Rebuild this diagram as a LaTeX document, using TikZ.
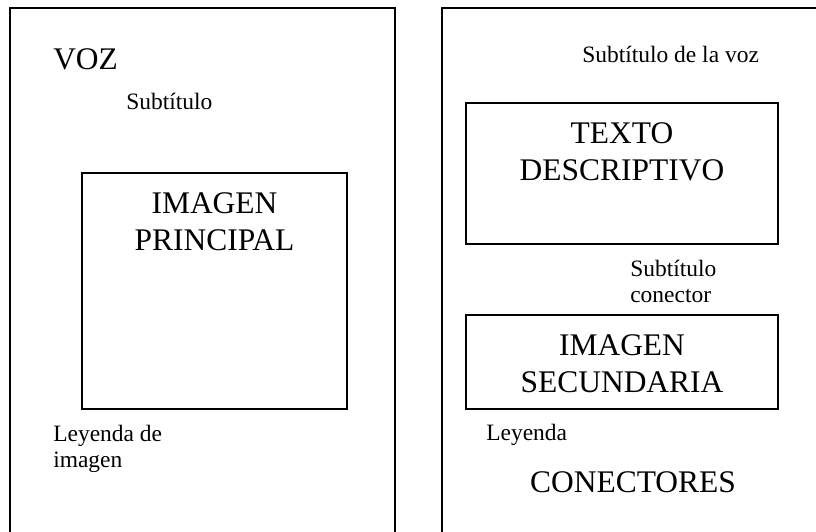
\documentclass[tikz,border=0pt]{standalone}
\usepackage{fontspec}
\setmainfont{Liberation Serif}
\usetikzlibrary{positioning}

\tikzset{
  chico/.style={inner sep=0pt, font=\fontsize{17.6}{19.5}\selectfont},
  grande/.style={inner sep=0pt, font=\fontsize{23.6}{27.75}\selectfont, align=center},
  marco/.style={line width=1.1pt},
}

\begin{document}
\begin{tikzpicture}[x=0.75pt, y=-0.75pt]
	\useasboundingbox (0,0) rectangle (816,531);
	\clip (0,0) rectangle (816,531);
	% paginas
	\draw[marco] (10,8) rectangle (395,545);
	\draw[marco] (442,8) rectangle (830,545);
	% cajas interiores
	\draw[marco] (82,173) rectangle (347,409);
	\draw[marco] (466,103) rectangle (778,244);
	\draw[marco] (466,315) rectangle (778,409);
	% pagina izquierda (base = ultima linea)
	\node[grande, anchor=base west] (voz) at (53,70) {VOZ};
	\node[chico, anchor=base west] (subt) at (126,110) {Subtítulo};
	\node[grande, anchor=base] (imgp) at (214.5,250) {IMAGEN\\PRINCIPAL};
	\node[chico, anchor=base west, align=left] (leyp) at (53,467) {Leyenda de\\imagen};
	% pagina derecha
	\node[chico, anchor=base west] (subv) at (582,63) {Subtítulo de la voz};
	\node[grande, anchor=base] (texto) at (622,180) {TEXTO\\DESCRIPTIVO};
	\node[chico, anchor=base west, align=left] (subc) at (630,302) {Subtítulo\\conector};
	\node[grande, anchor=base] (imgs) at (622,392) {IMAGEN\\SECUNDARIA};
	\node[chico, anchor=base west] (leys) at (486,440) {Leyenda};
	\node[grande, anchor=base] (con) at (633,492) {CONECTORES};
\end{tikzpicture}
\end{document}
